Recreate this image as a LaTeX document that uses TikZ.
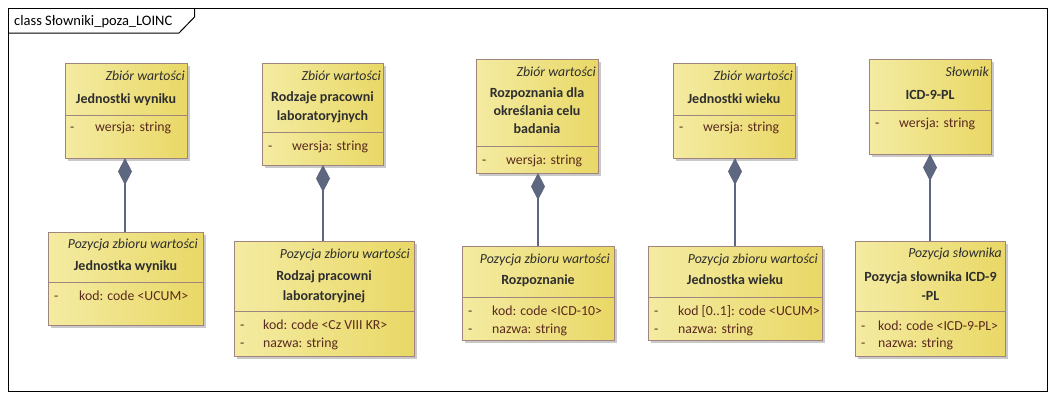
\documentclass[tikz,border=0pt]{standalone}
\usepackage{fontspec}
\setmainfont{Carlito}
\usetikzlibrary{arrows.meta}
\definecolor{bordc}{HTML}{A0857F}
\definecolor{fillL}{HTML}{F4EBA2}
\definecolor{fillR}{HTML}{E9D866}
\definecolor{shadowc}{HTML}{C9C9C9}
\definecolor{linkc}{HTML}{5E6780}
\definecolor{titlec}{HTML}{2E2E2E}
\definecolor{attrc}{HTML}{5A2A1E}
\newcommand\umlbox[6]{%
  \fill[shadowc] ({#2+3},{#3+3}) rectangle ({#4+3},{#6+3});
  \node[clsbox, minimum width={#4-#2}, minimum height={#6-#3}] (#1) at ({(#2+#4)/2},{(#3+#6)/2}) {};
  \draw[bordc, line width=0.9pt] (#2,#5) -- (#4,#5);
}
\begin{document}
\begin{tikzpicture}[x=1pt,y=-1pt,
  clsbox/.style={draw=bordc, line width=0.9pt, left color=fillL, right color=fillR, shading angle=90, inner sep=0pt, outer sep=0pt},
  stereo/.style={font=\fontsize{13.8}{16}\selectfont\itshape, text=titlec, anchor=base east, inner sep=0pt},
  title/.style={font=\fontsize{14}{16}\selectfont\bfseries, text=titlec, anchor=base, inner sep=0pt},
  attr/.style={font=\fontsize{13.8}{16}\selectfont, text=attrc, anchor=base west, inner sep=0pt},
  comp/.style={draw=linkc, line width=1.4pt, -{Diamond[length=27pt,width=14pt,fill=linkc]}},
  frametxt/.style={font=\fontsize{14.5}{16}\selectfont, text=black, anchor=base west, inner sep=0pt}]
\useasboundingbox (0,0) rectangle (1056,400);
\fill[white] (0,0) rectangle (1056,400);
% frame
\draw[black, line width=1pt] (8.5,8.5) rectangle (1047.5,391.5);
\draw[black, line width=1pt] (8.5,33) -- (179,33) -- (194.5,17) -- (194.5,8.5);
\node[frametxt] (ftitle) at (14,25.5) {class Słowniki\_poza\_LOINC};
% boxes
\umlbox{b1}{65}{63}{187}{115}{158}
\umlbox{b2}{48}{232}{203}{282}{325}
\umlbox{b3}{262}{63}{383}{132}{165}
\umlbox{b4}{234}{241}{414}{311}{356}
\umlbox{b5}{476}{59}{598}{146}{173}
\umlbox{b6}{462}{246}{614}{297}{340}
\umlbox{b7}{673}{63}{795}{115}{158}
\umlbox{b8}{648}{246}{822}{297}{340}
\umlbox{b9}{869}{59}{991}{110}{154}
\umlbox{b10}{855}{241}{1005}{311}{356}
% b1
\node[stereo] (s1) at (185,80) {Zbiór wartości};
\node[title] (t1) at (126,103.5) {Jednostki wyniku};
\node[attr] (d1) at (70,131.5) {-};
\node[attr] (a1) at (95,131.5) {wersja: string};
% b2
\node[stereo] (s2) at (198,248) {Pozycja zbioru wartości};
\node[title] (t2) at (125.5,270.5) {Jednostka wyniku};
\node[attr] (d2) at (54,300) {-};
\node[attr] (a2) at (79,300) {kod: code <UCUM>};
% b3
\node[stereo] (s3) at (381,80) {Zbiór wartości};
\node[title] (t3a) at (322.5,101.5) {Rodzaje pracowni};
\node[title] (t3b) at (322.5,120.5) {laboratoryjnych};
\node[attr] (d3) at (268,150) {-};
\node[attr] (a3) at (292,150) {wersja: string};
% b4
\node[stereo] (s4) at (410,258.5) {Pozycja zbioru wartości};
\node[title] (t4a) at (324,280.5) {Rodzaj pracowni};
\node[title] (t4b) at (324,300) {laboratoryjnej};
\node[attr] (d4a) at (240,329) {-};
\node[attr] (a4a) at (263,329) {kod: code <Cz VIII KR>};
\node[attr] (d4b) at (240,347) {-};
\node[attr] (a4b) at (263,347) {nazwa: string};
% b5
\node[stereo] (s5) at (596,76) {Zbiór wartości};
\node[title] (t5a) at (537,97.5) {Rozpoznania dla};
\node[title] (t5b) at (537,115.5) {określania celu};
\node[title] (t5c) at (537,133.5) {badania};
\node[attr] (d5) at (482,164) {-};
\node[attr] (a5) at (506,164) {wersja: string};
% b6
\node[stereo] (s6) at (610,263) {Pozycja zbioru wartości};
\node[title] (t6) at (538,284.5) {Rozpoznanie};
\node[attr] (d6a) at (468,315) {-};
\node[attr] (a6a) at (492,315) {kod: code <ICD-10>};
\node[attr] (d6b) at (468,333) {-};
\node[attr] (a6b) at (492,333) {nazwa: string};
% b7
\node[stereo] (s7) at (793,80) {Zbiór wartości};
\node[title] (t7) at (734,103.5) {Jednostki wieku};
\node[attr] (d7) at (679,131.5) {-};
\node[attr] (a7) at (703,131.5) {wersja: string};
% b8
\node[stereo] (s8) at (818,263) {Pozycja zbioru wartości};
\node[title] (t8) at (735,284.5) {Jednostka wieku};
\node[attr] (d8a) at (654,315) {-};
\node[attr] (a8a) at (678,315) {kod [0..1]: code <UCUM>};
\node[attr] (d8b) at (654,333) {-};
\node[attr] (a8b) at (678,333) {nazwa: string};
% b9
\node[stereo] (s9) at (989,76) {Słownik};
\node[title] (t9) at (930,99) {ICD-9-PL};
\node[attr] (d9) at (875,127) {-};
\node[attr] (a9) at (899,127) {wersja: string};
% b10
\node[stereo] (s10) at (1002,257.5) {Pozycja słownika};
\node[title] (t10a) at (930.5,281.5) {Pozycja słownika ICD-9};
\node[title] (t10b) at (930.5,300.5) {-PL};
\node[attr] (d10a) at (861,330) {-};
\node[attr] (a10a) at (878,330) {kod: code <ICD-9-PL>};
\node[attr] (d10b) at (861,347) {-};
\node[attr] (a10b) at (878,347) {nazwa: string};
% compositions
\draw[comp] ([xshift=-0.5pt]b2.north) -- ([xshift=-0.5pt]b2.north |- b1.south);
\draw[comp] ([xshift=-1pt]b4.north) -- ([xshift=-1pt]b4.north |- b3.south);
\draw[comp] (b6.north) -- (b6.north |- b5.south);
\draw[comp] (b8.north) -- (b8.north |- b7.south);
\draw[comp] (b10.north) -- (b10.north |- b9.south);
\end{tikzpicture}
\end{document}
